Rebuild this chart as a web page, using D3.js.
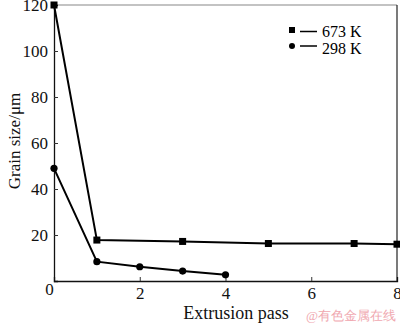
<!DOCTYPE html>
<html><head><meta charset="utf-8">
<script src="https://cdn.jsdelivr.net/npm/d3@7"></script>
<style>body{margin:0;background:#fff}svg{display:block}text{font-family:"Liberation Serif","Times New Roman",serif}</style>
</head><body>
<script>
const passes673 = [0, 1, 3, 5, 7, 8];
const size673 = [120, 17.8, 17.2, 16.3, 16.3, 16.0];
const passes298 = [0, 1, 2, 3, 4];
const size298 = [49, 8.4, 6.2, 4.3, 2.7];
const xTicks = [0, 2, 4, 6, 8];
const yTicks = [0, 20, 40, 60, 80, 100, 120];

const W = 400, H = 324;
const m = {left: 54, right: 3, top: 5, bottom: 43};
const svg = d3.select("body").append("svg").attr("width", W).attr("height", H);
const x = d3.scaleLinear().domain([0, 8]).range([m.left, W - m.right]);
const y = d3.scaleLinear().domain([0, 120]).range([H - m.bottom, m.top]);

// frame
svg.append("line").attr("x1", x(0)).attr("x2", x(8)).attr("y1", y(120)).attr("y2", y(120)).attr("stroke", "#888").attr("stroke-width", 1.2);
svg.append("line").attr("x1", x(8)).attr("x2", x(8)).attr("y1", y(120)).attr("y2", y(0)).attr("stroke", "#222").attr("stroke-width", 1.2);

const xa = svg.append("g").attr("transform", `translate(0,${y(0)})`)
  .call(d3.axisBottom(x).tickValues(xTicks).tickSize(-4).tickPadding(6));
const ya = svg.append("g").attr("transform", `translate(${x(0)},0)`)
  .call(d3.axisLeft(y).tickValues(yTicks).tickSize(-4).tickPadding(6));
[xa, ya].forEach(a => {
  a.select(".domain").attr("stroke", "#111").attr("stroke-width", 1.3);
  a.selectAll(".tick line").attr("stroke", "#333");
  a.selectAll(".tick text").attr("font-size", 17).attr("fill", "#111");
});
xa.selectAll(".tick").filter(d => d === 0 || d === 8).select("line").remove();
// shared origin label
xa.selectAll(".tick").filter(d => d === 0).select("text").attr("dx", -5).attr("y", 2);
ya.selectAll(".tick").filter(d => d === 0).select("text").remove();
ya.selectAll(".tick").filter(d => d === 0 || d === 120).select("line").remove();

const line = d3.line().x(d => x(d[0])).y(d => y(d[1]));
const d673 = passes673.map((p, i) => [p, size673[i]]);
const d298 = passes298.map((p, i) => [p, size298[i]]);
svg.append("path").datum(d673).attr("d", line).attr("fill", "none").attr("stroke", "#000").attr("stroke-width", 2);
svg.append("path").datum(d298).attr("d", line).attr("fill", "none").attr("stroke", "#000").attr("stroke-width", 2);
svg.selectAll(".sq").data(d673).join("rect")
  .attr("x", d => x(d[0]) - 3.5).attr("y", d => y(d[1]) - 3.5).attr("width", 7).attr("height", 7).attr("fill", "#000");
svg.selectAll(".ci").data(d298).join("circle")
  .attr("cx", d => x(d[0])).attr("cy", d => y(d[1])).attr("r", 3.6).attr("fill", "#000");

// legend
const lg = svg.append("g");
lg.append("rect").attr("x", 289).attr("y", 27).attr("width", 6).attr("height", 6);
lg.append("line").attr("x1", 300).attr("x2", 317).attr("y1", 31.5).attr("y2", 31.5).attr("stroke", "#000").attr("stroke-width", 1.5);
lg.append("text").attr("x", 322).attr("y", 37).attr("font-size", 16).text("673 K");
lg.append("circle").attr("cx", 292).attr("cy", 46).attr("r", 3);
lg.append("line").attr("x1", 300).attr("x2", 317).attr("y1", 46).attr("y2", 46).attr("stroke", "#000").attr("stroke-width", 1.5);
lg.append("text").attr("x", 322).attr("y", 54).attr("font-size", 16).text("298 K");

svg.append("text").attr("transform", `translate(20,141) rotate(-90)`)
  .attr("text-anchor", "middle").attr("font-size", 17).attr("fill", "#111").text("Grain size/μm");
svg.append("text").attr("x", 236).attr("y", 319).attr("text-anchor", "middle")
  .attr("font-size", 18).attr("fill", "#111").text("Extrusion pass");
svg.append("text").attr("x", 396).attr("y", 320).attr("text-anchor", "end")
  .attr("font-size", 13).attr("fill", "#f0a8b0").attr("font-family", "Noto Sans CJK SC").text("@有色金属在线");
</script>
</body></html>
